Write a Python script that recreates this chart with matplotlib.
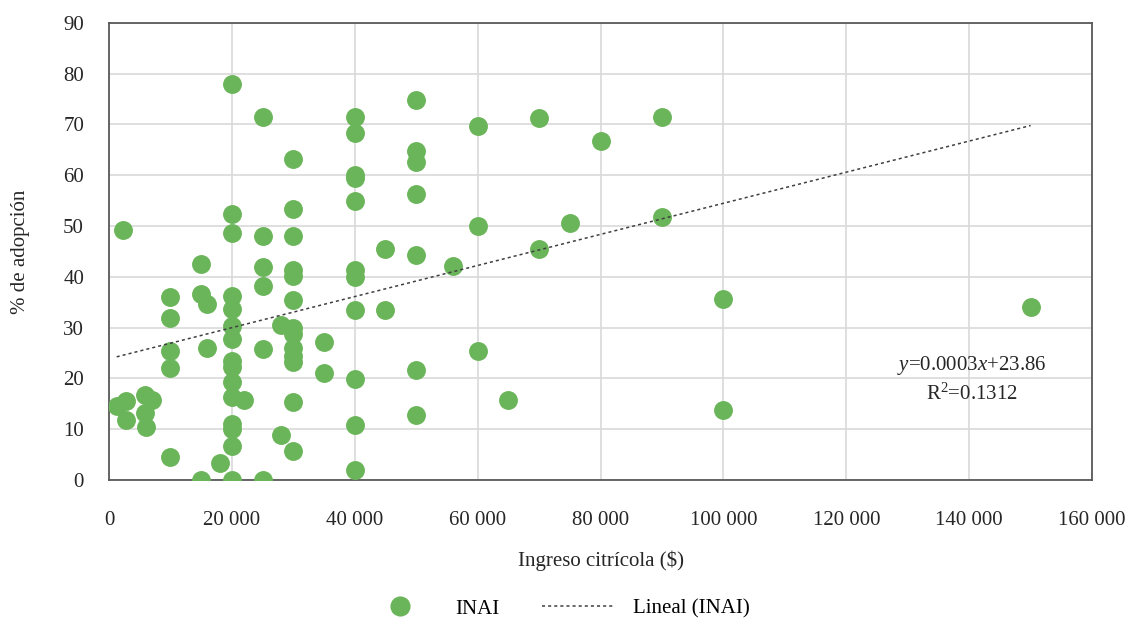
import numpy as np
import matplotlib.pyplot as plt
from matplotlib.ticker import FuncFormatter
from matplotlib.lines import Line2D

plt.rcParams['font.family'] = ['Liberation Serif', 'DejaVu Serif']
plt.rcParams['mathtext.fontset'] = 'custom'
plt.rcParams['mathtext.rm'] = 'Liberation Serif'
plt.rcParams['mathtext.it'] = 'Liberation Serif:italic'

# ingreso citricola ($) and % de adopcion
ingreso = [20000, 25000, 40000, 40000, 50000, 50000, 50000, 60000, 70000, 80000,
           90000, 30000, 40000, 40000, 40000, 50000, 30000, 20000, 20000, 2300,
           25000, 30000, 45000, 50000, 60000, 70000, 75000, 90000, 56000, 15000,
           25000, 30000, 30000, 40000, 40000, 25000, 10000, 15000, 16000, 20000,
           20000, 30000, 40000, 45000, 10000, 20000, 28000, 30000, 30000, 20000,
           35000, 10000, 16000, 25000, 30000, 30000, 30000, 20000, 20000, 10000,
           60000, 35000, 40000, 50000, 20000, 20000, 22000, 5800, 7000, 2700,
           1250, 5900, 2700, 6000, 30000, 65000, 50000, 100000, 100000, 150000,
           20000, 20000, 40000, 28000, 20000, 30000, 10000, 18000, 40000, 15000,
           20000, 25000]
adopcion = [78.0, 71.4, 71.4, 68.2, 74.8, 64.8, 62.6, 69.7, 71.3, 66.7,
            71.4, 63.2, 60.0, 59.4, 54.9, 56.3, 53.3, 52.4, 48.7, 49.2,
            48.1, 48.1, 45.4, 44.3, 49.9, 45.4, 50.6, 51.8, 42.2, 42.5,
            41.9, 41.3, 40.2, 41.3, 40.0, 38.2, 36.0, 36.6, 34.6, 36.2,
            33.6, 35.4, 33.5, 33.5, 31.9, 30.3, 30.6, 30.0, 28.7, 27.7,
            27.1, 25.4, 25.9, 25.7, 25.9, 24.4, 23.3, 23.5, 22.3, 22.0,
            25.3, 21.0, 19.9, 21.6, 19.3, 16.3, 15.7, 16.7, 15.7, 15.6,
            14.6, 13.1, 11.9, 10.5, 15.3, 15.8, 12.7, 13.8, 35.6, 34.1,
            11.0, 10.0, 10.8, 8.8, 6.7, 5.8, 4.6, 3.3, 2.0, 0.0,
            0.0, 0.0]

# trendline as printed on the chart
pendiente = 0.000306
intercepto = 23.86

green = '#6AB55A'
txt = '#262626'
fs = 15

fig = plt.figure(figsize=(11.32, 6.20), dpi=100)
ax = fig.add_axes([0.0963, 0.2258, 0.8684, 0.7376])

ax.scatter(ingreso, adopcion, s=185, color=green, linewidths=0, zorder=3)

xt = np.array([min(ingreso), max(ingreso)])
ax.plot(xt, pendiente * xt + intercepto, color='#404040', lw=1.1,
        linestyle=(0, (2, 2)), zorder=4)

ax.set_xlim(0, 160000)
ax.set_ylim(0, 90)
ax.set_xticks(np.arange(0, 160001, 20000))
ax.set_yticks(np.arange(0, 91, 10))
ax.xaxis.set_major_formatter(FuncFormatter(lambda v, p: f'{int(v):,}'.replace(',', ' ')))
ax.grid(True, color='#D9D9D9', lw=1.2, zorder=0)
ax.set_axisbelow(True)
for s in ax.spines.values():
    s.set_color('#595959')
    s.set_linewidth(1.3)
ax.tick_params(length=0, labelsize=fs, colors=txt)
ax.tick_params(axis='x', pad=22)
ax.tick_params(axis='y', pad=18)

ax.set_xlabel('Ingreso citrícola ($)', fontsize=fs, color=txt, labelpad=15)
ax.set_ylabel('% de adopción', fontsize=fs, color=txt, labelpad=24)

ax.text(140500, 22.6, r'$y$=0.0003$x$+23.86', fontsize=fs,
        ha='center', va='center', color=txt)
ax.text(140500, 16.8, r'R$^2$=0.1312', fontsize=fs, ha='center', va='center',
        color=txt)

handles = [Line2D([], [], marker='o', ls='none', color=green, markersize=13.5),
           Line2D([], [], color='#404040', lw=1.1, linestyle=(0, (2, 2)))]
fig.legend(handles, ['INAI', 'Lineal (INAI)'], loc='center', ncol=2,
           bbox_to_anchor=(0.492, 0.018), frameon=False, fontsize=fs,
           handlelength=3.5, columnspacing=2.0, handletextpad=0.9)

fig.savefig('out.png', dpi=100)
